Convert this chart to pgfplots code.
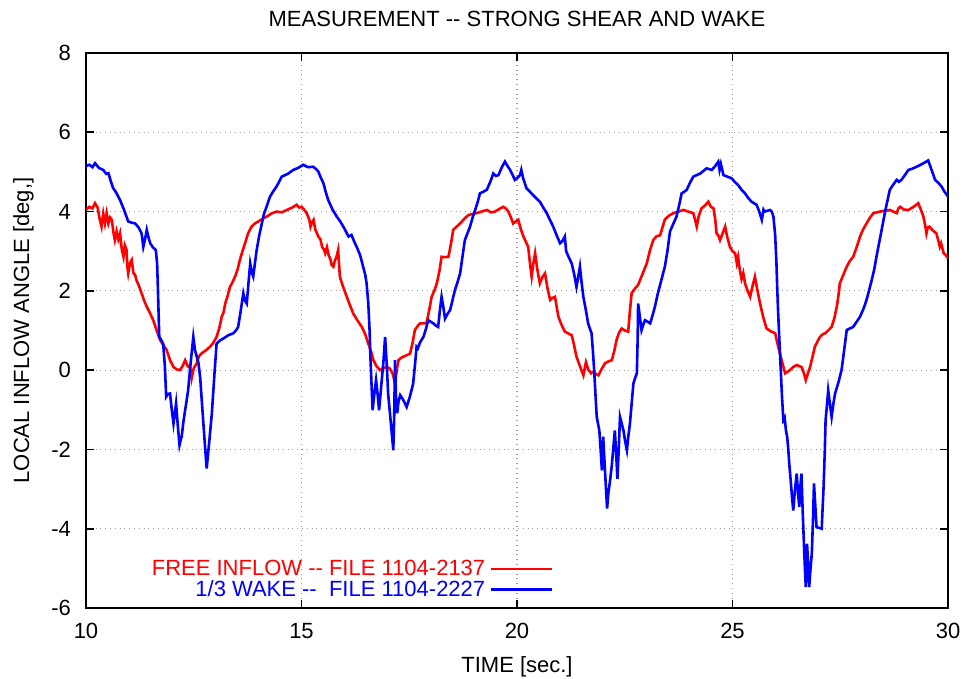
\documentclass[border=0pt]{standalone}
\usepackage{fontspec}
\setmainfont{Liberation Sans}
\usepackage{pgfplots}
\pgfplotsset{compat=1.18}

\begin{document}
\begin{tikzpicture}
\begin{axis}[
  scale only axis, width=431pt, height=277.5pt,
  xmin=10, xmax=30, ymin=-6, ymax=8,
  xtick={10,15,20,25,30}, ytick={-6,-4,-2,0,2,4,6,8},
  grid=major, major grid style={dotted, gray!80, line width=0.6pt},
  axis line style={black, line width=0.9pt},
  major tick length=4pt, tick style={black, line width=0.9pt},
  /pgf/number format/assume math mode=true,
  font=\fontsize{11}{13}\selectfont,
  ticklabel style={font=\fontsize{11}{13}\selectfont},
  xticklabel style={yshift=-4pt},
  yticklabel style={xshift=-4pt},
  title={MEASUREMENT -{}- STRONG SHEAR AND WAKE},
  title style={at={(0.5,1)}, anchor=south, yshift=3.5pt},
  xlabel={TIME [sec.]}, xlabel style={yshift=-2pt},
  ylabel={LOCAL INFLOW ANGLE [deg,]}, ylabel style={yshift=2pt},
  legend plot pos=right, legend cell align=right,
  legend image code/.code={\draw[#1] (0pt,0pt) -- (30.5pt,0pt);},
  legend style={at={(0.542,0.0515)}, anchor=east, draw=none, fill=none,
    inner sep=0pt, row sep=-3pt, font=\fontsize{11}{13}\selectfont},
]
\addplot[red, line width=1.3pt] coordinates {
(10.00,4.05)(10.08,4.12)(10.15,4.08)(10.21,4.21)(10.27,4.10)(10.31,3.85)(10.36,3.62)(10.40,3.95)(10.44,3.70)(10.48,3.96)(10.52,3.70)(10.56,3.85)(10.60,3.79)(10.64,3.45)(10.67,3.28)(10.71,3.50)(10.75,3.30)(10.79,3.45)(10.83,3.05)(10.87,2.86)(10.90,3.15)(10.94,3.03)(10.96,2.60)(10.98,2.44)(11.02,2.70)(11.06,2.78)(11.10,2.45)(11.14,2.40)(11.17,2.27)(11.22,2.15)(11.29,1.94)(11.35,1.75)(11.41,1.60)(11.48,1.45)(11.56,1.26)(11.64,1.00)(11.72,0.76)(11.80,0.62)(11.87,0.51)(11.95,0.25)(12.03,0.08)(12.10,0.02)(12.18,0.00)(12.24,0.10)(12.30,0.25)(12.36,0.10)(12.42,0.05)(12.45,-0.21)(12.50,0.05)(12.57,0.17)(12.62,0.35)(12.68,0.42)(12.78,0.50)(12.88,0.59)(12.96,0.70)(13.03,0.84)(13.09,1.05)(13.15,1.35)(13.19,1.45)(13.23,1.68)(13.28,1.85)(13.34,2.10)(13.40,2.22)(13.46,2.36)(13.52,2.55)(13.57,2.78)(13.63,3.00)(13.69,3.20)(13.76,3.45)(13.84,3.62)(13.92,3.70)(14.00,3.75)(14.10,3.82)(14.19,3.87)(14.30,3.95)(14.42,4.00)(14.54,3.98)(14.66,4.04)(14.78,4.10)(14.89,4.17)(14.95,4.10)(15.00,4.12)(15.06,4.05)(15.12,3.96)(15.18,3.80)(15.21,3.62)(15.24,3.72)(15.28,3.79)(15.32,3.55)(15.36,3.45)(15.39,3.37)(15.44,3.30)(15.48,3.10)(15.52,3.05)(15.55,2.95)(15.59,3.10)(15.63,2.90)(15.67,2.80)(15.70,2.65)(15.74,2.61)(15.77,2.75)(15.81,2.85)(15.85,3.03)(15.87,2.70)(15.89,2.36)(15.95,2.15)(16.00,2.00)(16.05,1.85)(16.12,1.65)(16.20,1.43)(16.30,1.25)(16.40,1.09)(16.48,0.90)(16.55,0.67)(16.62,0.45)(16.67,0.25)(16.74,0.10)(16.82,0.00)(16.90,0.05)(16.98,0.08)(17.05,0.04)(17.12,-0.10)(17.17,-0.34)(17.21,0.00)(17.25,0.25)(17.30,0.30)(17.36,0.34)(17.45,0.38)(17.52,0.42)(17.58,0.70)(17.63,1.01)(17.70,1.12)(17.75,1.18)(17.83,1.18)(17.90,1.18)(17.96,1.50)(18.02,1.85)(18.08,2.00)(18.14,2.19)(18.20,2.50)(18.25,2.86)(18.33,2.85)(18.41,2.86)(18.47,3.20)(18.52,3.54)(18.60,3.62)(18.68,3.70)(18.78,3.82)(18.87,3.91)(18.97,3.94)(19.06,3.96)(19.18,4.00)(19.30,4.04)(19.40,3.98)(19.49,4.00)(19.58,4.06)(19.68,4.12)(19.74,4.08)(19.80,4.00)(19.86,3.85)(19.91,3.70)(19.97,3.75)(20.03,3.79)(20.09,3.55)(20.15,3.37)(20.20,3.25)(20.26,3.11)(20.30,2.70)(20.34,2.36)(20.38,2.70)(20.42,2.95)(20.47,2.55)(20.53,2.19)(20.59,2.35)(20.65,2.44)(20.71,2.05)(20.77,1.77)(20.82,1.82)(20.88,1.85)(20.92,1.60)(20.96,1.35)(21.03,1.15)(21.11,0.97)(21.20,0.92)(21.27,0.88)(21.33,0.60)(21.38,0.34)(21.46,0.10)(21.54,-0.13)(21.60,0.20)(21.66,0.00)(21.72,-0.08)(21.77,-0.04)(21.83,-0.10)(21.89,-0.13)(21.96,0.02)(22.04,0.17)(22.12,0.22)(22.20,0.25)(22.26,0.50)(22.31,0.76)(22.37,0.95)(22.43,1.05)(22.50,1.00)(22.58,0.97)(22.62,1.50)(22.66,1.94)(22.73,2.05)(22.81,2.15)(22.91,2.42)(23.01,2.69)(23.08,3.00)(23.16,3.28)(23.24,3.38)(23.32,3.40)(23.43,3.80)(23.53,3.90)(23.63,3.96)(23.75,4.00)(23.86,4.04)(23.97,4.00)(24.09,3.96)(24.13,3.80)(24.17,3.62)(24.22,3.90)(24.28,4.08)(24.36,4.15)(24.44,4.25)(24.50,4.12)(24.56,4.08)(24.60,3.80)(24.63,3.45)(24.67,3.40)(24.71,3.28)(24.77,3.45)(24.83,3.62)(24.88,3.35)(24.94,3.11)(25.00,3.00)(25.06,2.95)(25.10,2.70)(25.13,2.85)(25.17,2.53)(25.21,2.30)(25.25,2.45)(25.29,2.19)(25.35,2.00)(25.41,1.85)(25.46,2.10)(25.52,2.36)(25.58,2.00)(25.64,1.68)(25.71,1.35)(25.79,1.05)(25.89,0.98)(25.99,0.93)(26.06,0.59)(26.14,0.25)(26.22,-0.08)(26.28,-0.04)(26.33,0.00)(26.41,0.08)(26.49,0.13)(26.55,0.10)(26.60,0.08)(26.65,-0.05)(26.70,-0.25)(26.75,-0.08)(26.80,0.08)(26.86,0.35)(26.91,0.59)(26.97,0.72)(27.03,0.84)(27.09,0.90)(27.15,0.93)(27.22,1.00)(27.30,1.09)(27.36,1.30)(27.42,1.60)(27.46,1.90)(27.49,2.19)(27.57,2.40)(27.65,2.61)(27.72,2.75)(27.80,2.86)(27.88,3.10)(27.96,3.37)(28.03,3.55)(28.11,3.70)(28.19,3.85)(28.27,3.96)(28.35,3.98)(28.42,4.00)(28.54,4.02)(28.65,4.04)(28.73,4.00)(28.81,3.96)(28.85,4.08)(28.89,4.12)(28.98,4.05)(29.08,4.04)(29.20,4.12)(29.31,4.21)(29.37,4.05)(29.43,3.87)(29.47,3.65)(29.50,3.45)(29.53,3.60)(29.57,3.62)(29.65,3.52)(29.73,3.45)(29.78,3.25)(29.81,3.11)(29.84,3.20)(29.90,2.95)(29.95,2.90)(30.00,2.82)
};
\addlegendentry{\textcolor{red}{FREE INFLOW -{}- FILE 1104-2137}}
\addplot[blue, line width=1.3pt] coordinates {
(10.00,5.15)(10.08,5.18)(10.15,5.12)(10.21,5.22)(10.30,5.10)(10.40,5.05)(10.47,4.95)(10.52,4.97)(10.58,4.75)(10.63,4.59)(10.70,4.48)(10.79,4.29)(10.88,4.05)(10.98,3.75)(11.06,3.72)(11.14,3.70)(11.22,3.60)(11.29,3.45)(11.33,3.11)(11.37,3.30)(11.41,3.54)(11.45,3.35)(11.49,3.20)(11.55,3.10)(11.62,3.03)(11.65,2.69)(11.67,2.00)(11.69,1.20)(11.70,0.84)(11.75,0.75)(11.79,0.67)(11.83,0.10)(11.86,-0.67)(11.90,-0.60)(11.95,-0.59)(11.99,-1.00)(12.03,-1.35)(12.06,-1.10)(12.09,-0.84)(12.13,-1.40)(12.17,-1.89)(12.20,-1.75)(12.22,-1.68)(12.26,-1.30)(12.30,-1.01)(12.33,-0.80)(12.37,-0.50)(12.43,0.20)(12.49,0.84)(12.53,0.50)(12.57,0.34)(12.61,0.17)(12.65,-0.20)(12.68,-0.67)(12.74,-1.60)(12.80,-2.48)(12.86,-1.80)(12.92,-1.09)(12.98,-0.10)(13.03,0.67)(13.11,0.75)(13.19,0.80)(13.30,0.88)(13.42,0.93)(13.48,1.00)(13.53,1.09)(13.59,1.50)(13.65,1.94)(13.69,1.75)(13.73,1.68)(13.77,2.20)(13.81,2.69)(13.85,2.45)(13.88,2.36)(13.92,2.70)(13.96,3.03)(14.02,3.40)(14.08,3.70)(14.13,3.95)(14.19,4.12)(14.27,4.38)(14.35,4.52)(14.42,4.63)(14.48,4.75)(14.54,4.88)(14.68,4.95)(14.81,5.05)(14.92,5.10)(15.04,5.18)(15.15,5.12)(15.27,5.13)(15.33,5.08)(15.39,5.01)(15.45,4.85)(15.51,4.71)(15.56,4.50)(15.62,4.29)(15.72,4.05)(15.82,3.87)(15.90,3.75)(15.97,3.62)(16.03,3.50)(16.09,3.37)(16.16,3.41)(16.22,3.25)(16.28,3.11)(16.36,2.90)(16.43,2.61)(16.48,2.40)(16.51,2.19)(16.55,1.68)(16.58,1.00)(16.60,0.30)(16.63,-0.50)(16.65,-1.01)(16.69,-0.60)(16.73,-0.25)(16.77,-0.65)(16.80,-1.01)(16.85,-0.40)(16.90,0.20)(16.94,0.84)(16.98,0.10)(17.01,-0.59)(17.07,-1.30)(17.13,-2.02)(17.15,-1.20)(17.17,0.25)(17.19,-0.60)(17.22,-1.09)(17.25,-0.80)(17.29,-0.63)(17.36,-0.75)(17.44,-0.93)(17.52,-0.65)(17.59,-0.34)(17.63,0.10)(17.67,0.59)(17.70,0.55)(17.75,0.70)(17.83,0.84)(17.89,1.05)(17.94,1.26)(18.00,1.22)(18.06,1.18)(18.12,1.12)(18.17,1.09)(18.21,1.50)(18.25,1.85)(18.29,1.60)(18.33,1.30)(18.39,1.42)(18.45,1.52)(18.50,1.75)(18.56,2.02)(18.62,2.22)(18.68,2.44)(18.74,2.90)(18.79,3.28)(18.85,3.45)(18.91,3.62)(18.97,3.85)(19.03,4.04)(19.09,4.25)(19.14,4.46)(19.22,4.50)(19.30,4.55)(19.38,4.75)(19.45,4.96)(19.51,4.90)(19.57,4.92)(19.64,5.10)(19.72,5.26)(19.78,5.15)(19.84,5.05)(19.90,4.92)(19.95,4.80)(20.01,4.85)(20.07,4.92)(20.10,5.05)(20.14,4.85)(20.22,4.59)(20.30,4.50)(20.37,4.42)(20.45,4.33)(20.53,4.25)(20.61,4.10)(20.69,3.96)(20.76,3.80)(20.84,3.62)(20.92,3.40)(21.00,3.20)(21.05,3.25)(21.11,3.37)(21.14,3.00)(21.20,2.85)(21.27,2.69)(21.33,2.40)(21.38,2.10)(21.42,2.35)(21.46,2.61)(21.50,2.20)(21.54,1.85)(21.60,1.50)(21.65,1.18)(21.69,1.05)(21.73,0.93)(21.76,0.50)(21.79,0.00)(21.82,-0.60)(21.85,-1.18)(21.88,-1.35)(21.91,-1.52)(21.94,-2.00)(21.97,-2.53)(22.00,-1.68)(22.04,-2.50)(22.07,-3.10)(22.09,-3.49)(22.12,-3.10)(22.16,-2.78)(22.20,-2.40)(22.23,-2.02)(22.27,-1.52)(22.30,-2.10)(22.33,-2.74)(22.36,-2.00)(22.39,-1.18)(22.43,-1.35)(22.47,-1.52)(22.51,-1.80)(22.55,-2.02)(22.58,-1.70)(22.62,-1.35)(22.66,-0.85)(22.70,-0.34)(22.74,-0.20)(22.78,-0.08)(22.80,0.80)(22.81,1.68)(22.85,1.35)(22.89,1.01)(22.93,1.15)(22.97,1.26)(23.03,1.22)(23.09,1.18)(23.15,1.40)(23.20,1.60)(23.26,1.90)(23.32,2.15)(23.38,2.40)(23.43,2.61)(23.49,3.00)(23.55,3.50)(23.63,3.70)(23.70,3.87)(23.76,4.15)(23.82,4.46)(23.88,4.50)(23.94,4.55)(24.01,4.72)(24.09,4.88)(24.17,4.92)(24.25,4.96)(24.32,5.02)(24.40,5.09)(24.46,5.07)(24.52,5.05)(24.60,5.15)(24.67,5.26)(24.70,5.05)(24.73,5.20)(24.79,4.92)(24.88,4.88)(24.98,4.84)(25.05,4.75)(25.13,4.67)(25.21,4.55)(25.29,4.46)(25.36,4.35)(25.44,4.25)(25.50,4.21)(25.56,4.17)(25.62,4.00)(25.68,3.79)(25.72,4.05)(25.75,4.00)(25.81,4.02)(25.87,4.04)(25.91,4.00)(25.95,3.87)(25.99,3.40)(26.02,2.69)(26.04,2.00)(26.06,1.43)(26.09,0.70)(26.12,0.00)(26.15,-0.70)(26.18,-1.26)(26.21,-1.20)(26.24,-1.52)(26.27,-1.70)(26.29,-1.94)(26.32,-2.40)(26.35,-2.78)(26.38,-3.20)(26.41,-3.54)(26.45,-3.00)(26.49,-2.61)(26.52,-3.10)(26.55,-3.45)(26.57,-3.00)(26.60,-2.61)(26.63,-3.60)(26.66,-4.46)(26.68,-5.00)(26.70,-5.47)(26.72,-4.90)(26.73,-4.38)(26.76,-5.00)(26.78,-5.47)(26.81,-5.00)(26.84,-4.63)(26.87,-3.70)(26.89,-2.86)(26.92,-3.40)(26.95,-3.96)(27.01,-3.98)(27.07,-4.00)(27.09,-3.50)(27.11,-3.03)(27.14,-2.10)(27.16,-1.26)(27.19,-0.90)(27.22,-0.51)(27.26,-0.85)(27.30,-1.18)(27.34,-0.85)(27.38,-0.59)(27.46,-0.30)(27.53,0.00)(27.59,0.50)(27.65,1.01)(27.72,1.05)(27.80,1.09)(27.88,1.22)(27.96,1.35)(28.04,1.55)(28.11,1.77)(28.17,2.02)(28.23,2.27)(28.29,2.55)(28.34,2.86)(28.40,3.20)(28.46,3.54)(28.55,4.05)(28.65,4.55)(28.73,4.68)(28.81,4.80)(28.86,4.75)(28.92,4.80)(29.00,4.92)(29.08,5.05)(29.17,5.08)(29.27,5.13)(29.40,5.20)(29.54,5.29)(29.62,5.05)(29.70,4.80)(29.78,4.72)(29.85,4.63)(29.92,4.50)(30.00,4.38)
};
\addlegendentry{\textcolor{blue}{1/3 WAKE -{}-~ FILE 1104-2227}}
\end{axis}
\pgfresetboundingbox
\path[use as bounding box] ([xshift=-43pt,yshift=-35.5pt]current axis.south west) rectangle ([xshift=8.5pt,yshift=26.5pt]current axis.north east);
\end{tikzpicture}
\end{document}
